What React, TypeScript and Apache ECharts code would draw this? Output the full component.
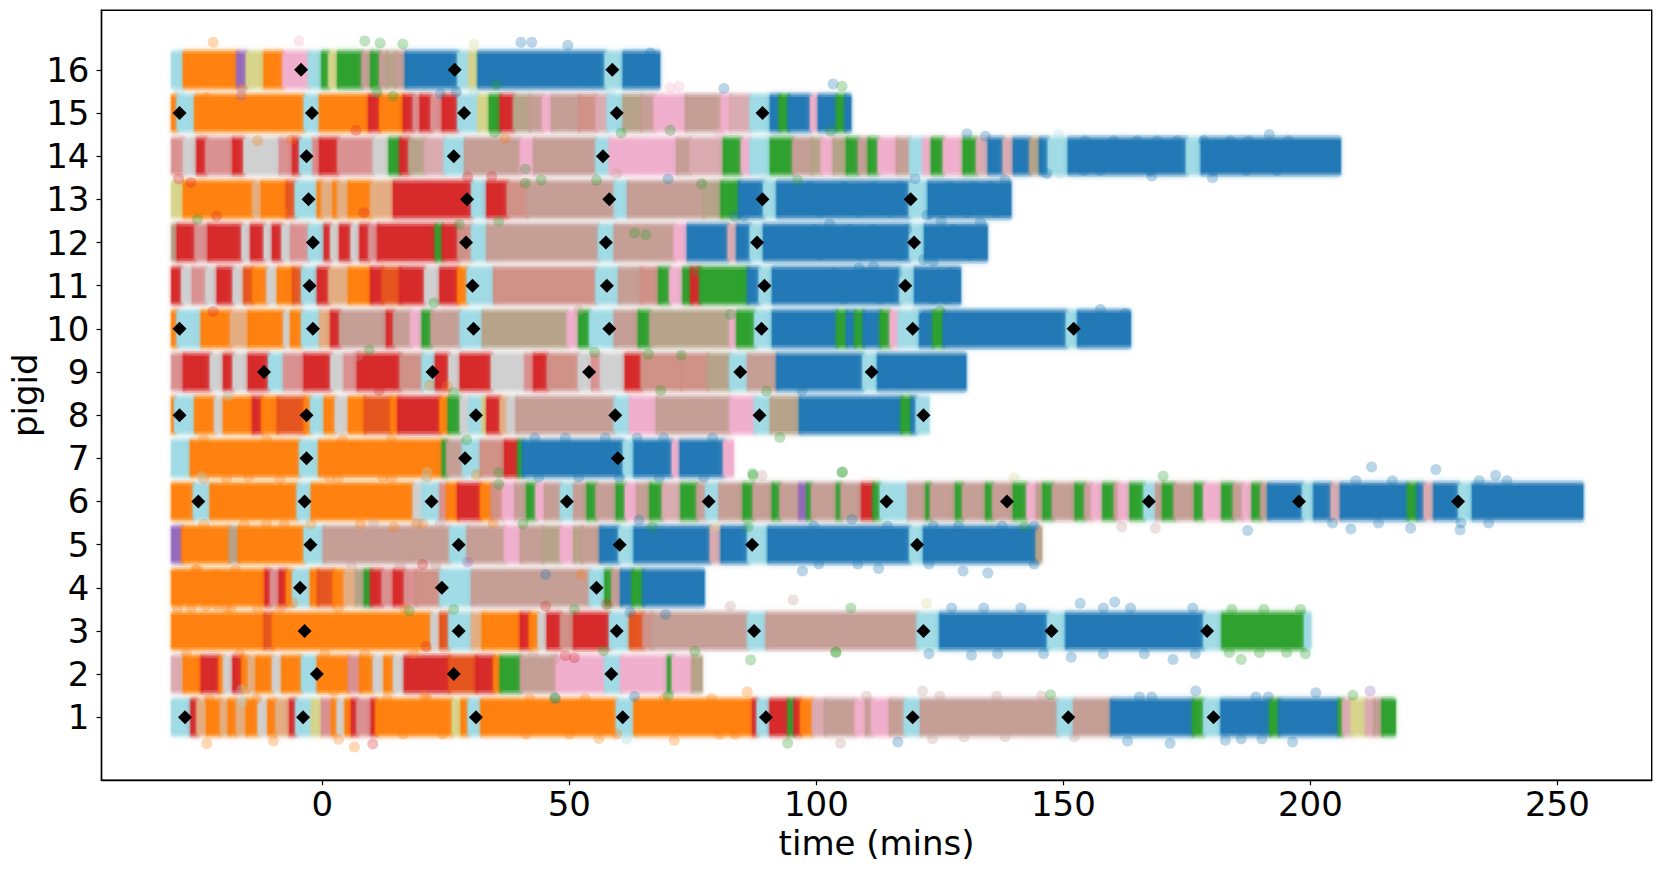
import { useEffect, useRef } from "react";
import * as echarts from "echarts";

// state colours, tab20-like, plus a few blends for the mottled stretches
const B = "#1f77b4", O = "#ff7f0e", G = "#2ca02c", R = "#d62728", P = "#9467bd";
const T = "#c49c94", K = "#f0aecb", A = "#cfcfcf", L = "#d6d48a", C = "#9edae5";
const AO = "#e3ad80", AR = "#d98f90", RO = "#e4521c", TR = "#cf8f86", TG = "#b5a288", TK = "#d9a9b0";

type Run = [string, number]; // state, end time in mins

const startTime = -30.4;

const run16: Run[] = [[C,-28],[O,-17.2],[P,-15.3],[L,-11.7],[O,-7.9],[K,-2.7],[C,0],[G,1.4],[L,3.2],[G,8.1],[T,9.9],[G,11.7],[T,13.1],[TG,14.9],[T,16.9],[B,27.5],[C,29.8],[L,31.6],[B,57.3],[C,61],[B,68.2]];
const run15: Run[] = [[O,-29.3],[C,-25.7],[O,-3.6],[C,-0.45],[O,9.5],[R,11.7],[O,16.5],[R,18.5],[AR,19.9],[R,22.1],[AR,24.4],[R,27.5],[C,31.6],[L,33.9],[G,36.1],[R,38.8],[TG,42],[T,44.7],[K,46.5],[T,52],[TR,55.5],[TK,57.8],[C,61],[TG,64.6],[T,67.3],[K,73.6],[T,80.8],[K,82.6],[TK,86.7],[C,90.8],[B,92.6],[G,94.4],[B,98.9],[K,100.5],[B,104.2],[G,105.9],[B,106.9]];
const run14: Run[] = [[AR,-28],[A,-25.3],[R,-23.5],[AR,-18],[R,-15.8],[A,-8.6],[AR,-5.9],[R,-4.5],[C,-1.8],[AR,-0.45],[R,3.2],[AR,10.4],[A,13.6],[G,15.8],[R,17.6],[TG,20.8],[TK,24.8],[C,28.9],[T,40.2],[K,42.9],[T,55.5],[C,58.2],[K,71.8],[T,74.5],[TK,81.3],[G,84.9],[K,86.7],[C,90.8],[G,95.3],[T,99.1],[TG,101.1],[K,103.5],[TG,106.2],[G,108.6],[T,110.6],[G,112.6],[K,116.3],[T,119],[C,121.7],[K,123.4],[G,125.8],[K,129.8],[G,132.5],[TK,134.9],[B,137.9],[TK,140],[B,143.3],[TG,145.3],[B,147],[C,151.1],[B,175],[C,178],[B,206]];
const run13: Run[] = [[L,-28],[O,-14],[AO,-12.2],[O,-7.2],[RO,-5.4],[C,-0.9],[O,0],[AO,2.3],[O,3.2],[AO,5.4],[O,9.9],[AO,14.5],[R,30.3],[C,33.4],[R,37.5],[TR,41.5],[T,59.2],[C,61.9],[T,77.2],[TG,80.8],[G,84.4],[B,89.4],[C,92.1],[B,118.9],[C,122.7],[B,139.3]];
const run12: Run[] = [[TG,-29.3],[R,-25.7],[AR,-23],[R,-16.2],[A,-14.4],[R,-11.7],[A,-10],[R,-8.1],[A,-6.3],[AR,-2.7],[C,0.5],[R,1.8],[A,3.6],[R,5.9],[A,7.7],[R,9.5],[AR,11.3],[R,23],[G,24.4],[R,27.5],[TR,30.3],[C,33.4],[T,56],[C,59.2],[T,71.3],[K,74],[B,82.2],[TK,84],[B,86.7],[C,89.4],[B,119],[C,122],[B,134.5]];
const run11: Run[] = [[R,-28.4],[A,-26.2],[AR,-23.5],[A,-21.2],[R,-18],[A,-15.8],[RO,-14],[O,-11.1],[A,-9],[O,-5.9],[RO,-4.1],[C,-0.9],[R,1.4],[AO,5.4],[O,9.9],[R,12.2],[RO,15.8],[R,20.8],[A,23.9],[R,27.5],[O,29.4],[C,34.8],[TR,55.5],[C,60.1],[T,64.6],[TR,68.2],[G,70.4],[K,73.1],[G,74.7],[R,76.5],[G,86.2],[B,88.5],[C,91.2],[B,117],[C,120],[B,129.1]];
const run10: Run[] = [[O,-29.3],[C,-24.4],[O,-18.5],[AO,-14.9],[O,-7.7],[A,-6.3],[O,-4.1],[C,-0.45],[AO,1.8],[R,3.6],[T,13.1],[R,14.5],[T,18],[K,20.3],[G,22.1],[T,28],[C,32.5],[TG,49.7],[K,52],[G,54.2],[C,59.2],[T,64.1],[G,66.4],[TG,82.6],[K,84],[G,87.6],[C,91.2],[B,104.2],[G,106.2],[B,107.9],[G,109.6],[B,113],[G,115],[K,116.7],[C,121],[B,123.7],[G,125.8],[B,150.7],[C,153],[B,163.5]];
const run9: Run[] = [[AR,-28],[R,-22.6],[A,-19.9],[R,-18],[A,-14.9],[R,-10.8],[C,-7.7],[AR,-3.6],[R,1.8],[A,4.5],[AR,7.2],[R,15.8],[TR,20.3],[C,23],[R,25.7],[A,28],[R,34.3],[A,41.1],[AR,42.9],[R,45.6],[TR,51.9],[A,54.6],[AR,56.4],[A,61.4],[R,64.6],[TR,72.7],[TR,78.1],[TG,82.6],[C,86.2],[T,92.1],[B,109.5],[C,112.5],[B,130.2]];
const run8: Run[] = [[O,-29.8],[C,-25.7],[O,-21.7],[A,-19.9],[O,-14],[R,-12.2],[O,-9],[RO,-3.6],[O,-2.3],[C,0.5],[O,2.7],[A,5.4],[O,8.6],[RO,14],[O,15.4],[R,23.9],[O,25.6],[G,28],[A,29.8],[C,32.5],[L,33.4],[R,36.1],[AO,37.5],[A,39.3],[T,59.2],[C,62.3],[K,67.7],[T,82.6],[K,87.6],[C,90.8],[TG,96.7],[B,117.3],[G,119.3],[B,120.3],[C,122.7]];
const run7: Run[] = [[C,-26.6],[O,-4.5],[C,-0.6],[O,24.4],[G,25.3],[T,28.5],[C,32.1],[TR,37],[R,39.7],[G,40.6],[B,61],[C,63.2],[B,70.9],[K,72.5],[B,81.3],[K,83.1]];
const run6: Run[] = [[O,-26],[C,-22.6],[O,-5],[C,-2.1],[O,18.5],[A,20.3],[C,23.9],[AR,25.3],[O,27.5],[R,32.1],[O,34.3],[TR,36.6],[K,39.1],[T,41.5],[G,43.3],[K,45.1],[T,48.3],[C,51],[T,53.7],[G,55.5],[T,59.6],[G,61.4],[K,63.7],[T,66.4],[G,68.9],[TK,72.7],[G,75.9],[T,77.7],[C,80.4],[T,85.3],[G,87.3],[T,91.2],[G,92.7],[T,96.6],[P,98.2],[G,99.1],[T,104.2],[G,105.1],[T,109.3],[R,111.6],[G,113],[C,118.6],[T,122.3],[G,123.2],[T,128.3],[G,129.7],[T,134.4],[G,135.8],[T,140],[G,142.7],[K,144.6],[T,146],[G,147.9],[T,152.5],[G,154.4],[T,155.8],[K,158.1],[G,160.4],[T,161.3],[K,163.6],[G,166.4],[C,168.8],[T,170.2],[G,172.5],[T,176.7],[G,178.5],[K,182.2],[G,184.5],[T,186.4],[K,188.3],[G,190.1],[T,191.5],[B,198.5],[C,200.8],[B,204.3],[TK,206.2],[B,219.8],[G,221.7],[B,223.1],[TK,225.1],[B,230.1],[C,232.9],[B,255.1]];
const run5: Run[] = [[P,-28.3],[O,-18.7],[TG,-16.9],[O,-3.6],[C,0.3],[T,25.9],[C,29.4],[T,37],[K,40.2],[T,44.7],[TG,48.3],[K,51],[TG,52.6],[T,56.3],[B,60.1],[C,63.2],[B,78.6],[TK,80.8],[B,86.2],[C,90.3],[B,119],[C,121.8],[B,144.6],[TG,145.5]];
const run4: Run[] = [[O,-11.5],[R,-10.4],[AR,-8.6],[R,-7.2],[O,-5.9],[C,-2.3],[O,-0.9],[RO,2.3],[O,4.5],[AO,6.8],[TG,8.6],[G,9.9],[R,12.2],[AR,14.5],[R,16.7],[AR,19],[TR,23.9],[C,30.3],[T,54.2],[C,57.3],[G,58.7],[T,60.5],[B,62.8],[G,65],[B,77.2]];
const run3: Run[] = [[O,-11.7],[RO,-10],[O,22.1],[A,23.9],[RO,25.7],[C,30.3],[AO,32.5],[O,40.2],[R,42],[O,43.8],[A,45.6],[R,48.3],[TR,51],[R,58.2],[C,62.3],[RO,65],[TR,66.8],[T,86.2],[C,89.9],[T,120.5],[C,125.1],[B,146.9],[C,150.6],[B,178.5],[C,182.2],[G,198.9],[C,200]];
const run2: Run[] = [[TK,-28],[O,-24.4],[R,-20.8],[O,-19.9],[A,-18],[R,-16.2],[O,-14.9],[AO,-13.3],[O,-10],[A,-8.1],[O,-4.1],[C,-0.9],[O,5.4],[AR,7.7],[O,10.4],[A,12.6],[O,14.5],[A,16.7],[R,25.7],[RO,31.2],[R,34.8],[O,36.1],[G,40.2],[T,47.4],[K,57.3],[C,60.5],[K,70],[G,70.9],[K,74.9],[TG,76.8]];
const run1: Run[] = [[C,-26.5],[R,-25.3],[AO,-23.3],[O,-20.5],[AO,-18.9],[O,-17.3],[AO,-15.3],[O,-12.9],[A,-10.9],[O,-9.3],[AO,-6.5],[R,-5.3],[C,-2.1],[L,-0.06],[AR,2],[O,3.1],[A,4.7],[O,6],[R,7.1],[AR,10],[R,10.9],[O,26.4],[L,28.2],[O,29.6],[C,32.2],[O,59.6],[C,63.2],[O,87.2],[R,88.1],[C,90.7],[R,94.4],[G,95.6],[R,96.9],[O,99.3],[TK,101.8],[T,108],[K,110.1],[T,111.3],[K,114.9],[T,117.9],[C,121.2],[T,148.9],[C,152.2],[T,159.7],[B,176.3],[G,178.5],[C,182],[B,191.9],[G,193.7],[B,205.8],[G,206.6],[TK,208.4],[L,211.3],[TK,212.9],[T,214.6],[G,217.1]];
const runs: Run[][] = [run1, run2, run3, run4, run5, run6, run7, run8, run9, run10, run11, run12, run13, run14, run15, run16];

// black diamonds, one list per pig
const marks: number[][] = [
  [-27.8, -3.9, 31.1, 60.8, 89.8, 119.5, 151, 180.4],
  [-1.1, 26.6, 58.5],
  [-3.6, 27.6, 59.6, 87.4, 121.7, 147.6, 179.1],
  [-4.5, 24.2, 55.5],
  [-2.4, 27.6, 60.2, 87, 120.4],
  [-25.1, -3.6, 22.1, 49.5, 78.2, 114.2, 138.6, 167.3, 197.7, 229.9],
  [-3.2, 28.9, 59.8],
  [-28.9, -3.2, 31.1, 59.3, 88.5, 121.7],
  [-11.8, 22.3, 54, 84.6, 111.2],
  [-28.9, -1.9, 30.6, 58.1, 88.9, 119.5, 152.1],
  [-2.6, 30.4, 57.6, 89.5, 118],
  [-1.9, 29.1, 57.4, 88, 119.8],
  [-2.8, 29.3, 58.1, 89.1, 119.1],
  [-3.2, 26.6, 56.8],
  [-28.9, -2.1, 28.7, 59.6, 89.1],
  [-4.3, 26.8, 58.7],
];

// stray points outside the bands, read one by one: [time, jittered pigid]
const strayBlue = [[42.4,16.64],[40.2,16.64],[49.7,16.57],[66.4,16.39],[27.1,15.49],[23.9,15.45],[81.3,15.57],[103.4,15.67],[130.5,14.52],[134.2,14.46],[191.7,14.5],[180.2,13.5],[167.9,13.54],[146.7,13.6],[70,13.47],[138.2,13.44],[120,13.48],[133.2,12.47],[122.4,12.63],[85.3,12.61],[83.5,12.61],[102.7,12.43],[125.3,12.49],[121.7,11.6],[123.7,11.56],[108.6,11.41],[111.6,11.45],[157.5,10.45],[162.5,10.35],[97.1,8.57],[45.2,4.31],[64.1,5.57],[69.5,3.38],[62.3,3.43],[63.2,1.48],[47.2,1.43],[176.8,1.61],[116.5,0.43],[171.6,0.4],[163,0.45],[196.4,0.43],[201.1,1.57],[182.8,0.47],[212.4,6.8],[225.4,6.74],[237.5,6.61],[187.3,5.33],[208.2,5.36],[220.3,5.38],[230.3,5.34],[97.2,4.39],[107.2,5.59],[112.6,4.45],[134.7,4.34],[129.7,4.39],[153.4,3.64],[160.4,3.67],[131.4,2.44],[172.2,2.34],[151.6,2.39]];
const strayOrange = [[-22.1,16.64],[-23.5,15.36],[-16.3,15.57],[-13.1,14.36],[-6.3,14.38],[37,14.41],[25.3,8.67],[21.7,8.69],[31.2,6.62],[14.5,5.41],[20.3,5.48],[52.4,4.31],[-21.4,4.31],[-25.3,4.43],[34.6,5.49],[-21.2,3.59],[-23.5,3.57],[-5.9,3.65],[-23.4,0.39],[-9.9,0.45],[6.5,0.31],[3.3,0.49],[56,0.51],[2.3,1.61],[20.7,1.48],[86,1.59],[71.2,0.47],[-8,12.69]];
const strayGreen = [[8.6,16.67],[11.7,16.62],[16.3,16.6],[11.1,15.47],[14.3,15.39],[35.2,15.65],[105.2,15.62],[60.5,14.54],[70.4,14.6],[102.9,14.58],[34.9,14.55],[76.8,13.36],[55.5,13.44],[41.1,13.38],[96.2,13.44],[41.1,13.7],[44.3,13.45],[35.7,12.49],[27.7,12.42],[63.2,12.22],[65.5,12.18],[-25.3,12.54],[125,10.41],[82.6,10.33],[75.9,11.34],[9.5,9.51],[66,9.41],[72.7,9.39],[22.6,10.6],[55.1,9.46],[89.9,8.56],[68.5,8.57],[29.2,7.43],[26.6,8.52],[92.6,7.48],[35.7,6.4],[87.2,6.6],[105.2,6.67],[87.1,6.65],[66.8,5.41],[86.2,5.41],[40.6,5.48],[35.7,6.67],[105.3,6.69],[170.2,6.59],[142.1,5.41],[17.6,3.46],[26.6,3.5],[51,3.5],[107,3.53],[86.7,2.33],[103.9,2.51],[75.4,2.53],[56.9,2.54],[47,1.45],[70,1.5],[147.4,1.52],[208.6,1.51],[94.2,0.4],[186,2.34],[199,2.47],[104,2.5]];
const strayRed = [[6.8,14.6],[-26.6,13.39],[-29.1,13.47],[34.3,13.53],[29.4,13.52],[-21.4,12.61],[8.4,12.69],[-22.1,10.4],[44.3,9.31],[11.5,8.57],[20.3,4.54],[45.2,3.57],[57.5,3.62],[49.2,2.43],[51,2.38],[21,2.64],[10.2,0.38]];
const strayRosy = [[59.6,13.6],[51.9,10.43],[7.2,9.38],[89,6.6],[161.8,5.41],[168.6,5.38],[17.6,4.72],[95.3,3.72],[82.6,3.57],[42.7,2.43],[47,2.35],[121.5,1.61],[104.9,0.4],[123.5,0.5]];
const strayPale = [[30.7,15.48],[58.3,15.46],[-28.9,15.5],[149,14.5],[149.4,13.6],[120.4,10.44],[-24.4,6.57],[21.2,6.67],[20.8,6.51],[-16.2,1.36],[-16.3,1.64],[61.6,0.49],[89.9,13.5],[-19,8.45]];
const strayPink = [[-4.7,16.67],[70.4,15.59],[72.2,15.62],[80.4,14.54]];
const strayPurple = [[-16.4,15.4],[29.4,4.6],[212.1,1.61]];
const strayOlive = [[30.7,16.6],[140,6.55],[79.5,5.41],[122.3,3.64]];

// bumps along the band edges: [pigid height, times]
const edgeBlue: [number, number[]][] = [
  [14.36, [154.4, 160.2, 164.9, 169, 173, 178.4, 183.8, 187.5, 195.6]],
  [13.66, [154.1, 157.5, 167.6, 180.4, 187.1, 193.2]],
  [13.3, [98.8, 105.5, 111.6, 117, 127.1, 131.8, 135.2]],
  [12.71, [100.8, 108.6, 115, 125.8, 130.5, 136.5]],
  [12.3, [99.5, 106.9, 111.6, 118.3, 127.8]],
  [11.71, [100.8, 108.9, 117, 123.7, 131.2]],
  [11.29, [103.5, 110.3, 116.3, 127.1]],
  [10.69, [105.5, 113, 123.7, 126.4]],
  [7.47, [43, 49.2, 57.3, 63.7, 69.1, 79]],
  [6.56, [43.8, 51.9, 60.1, 68.2, 77.2]],
  [6.48, [209.2, 216.6, 234.2, 239.8]],
  [5.5, [204.5, 213.8, 230.5, 236.1]],
  [5.43, [99.5, 114.4, 123.7, 128.8, 137.6, 144.1]],
  [4.55, [100.5, 108.4, 122.8, 144.1]],
  [3.53, [127.4, 133.9, 141.4, 158.1, 163.6, 176.2]],
  [2.47, [122.8, 136.7, 146, 158.1, 166.4, 176.7]],
  [1.47, [165.4, 167.9, 189, 191.5]],
  [0.5, [186, 190.2]],
];
const edgeOrange: [number, number[]][] = [
  [7.45, [-24, -11.3, 4.1, 14]],
  [6.56, [-14.9, 1.4, 12.2, 21.2]],
  [6.52, [-24, -19.4, -8.6, 3.2, 14]],
  [5.48, [-11.3, -2.3, 7.7, 19]],
  [5.47, [-24, -15.8, -7.7]],
  [4.41, [-25.7, -17.6]],
  [3.53, [-26.6, -19.4, -13.1]],
  [3.52, [-29.3, -18.5, -8.6, 3.2, 16.7]],
  [2.48, [-27.5, -16.7, 0.5, 8.6, 18.5]],
  [1.43, [-22.9, -13.3, 13.1, 21.2, 42, 53.2, 69.2, 78.8]],
  [0.61, [16.4, 24.4, 41.2, 50, 59.6, 80.4, 83.6]],
];
const edgeGreen: [number, number[]][] = [
  [3.5, [184.1, 190.6, 198]],
  [2.5, [183.6, 189.7, 195.2]],
];
const edgeRosy: [number, number[]][] = [
  [5.5, [10.4, 19.4, 23.9]],
  [4.53, [5.9, 15.8, 23]],
  [1.49, [110.1, 125, 136.5, 145.6]],
  [0.55, [129.9, 138.2, 152.2]],
];

const xTicks = [0, 50, 100, 150, 200, 250];
const yTicks = [1, 2, 3, 4, 5, 6, 7, 8, 9, 10, 11, 12, 13, 14, 15, 16];

const fontFamily = "DejaVu Sans";
const fontSize = 34;

const edgePoints = (edges: [number, number[]][]) =>
  edges.flatMap(([y, times]) => times.map((t) => [t, y]));

const strayData: [string, number[][]][] = [
  [B, [...strayBlue, ...edgePoints(edgeBlue)]],
  [O, [...strayOrange, ...edgePoints(edgeOrange)]],
  [G, [...strayGreen, ...edgePoints(edgeGreen)]],
  [R, strayRed],
  [T, [...strayRosy, ...edgePoints(edgeRosy)]],
  [C, strayPale], [K, strayPink], [P, strayPurple], [L, strayOlive],
];

const buildBands = () => {
  const rows: (number | string)[][] = [];
  runs.forEach((run, i) => {
    let start = startTime;
    run.forEach(([state, end]) => {
      rows.push([start, end, i + 1, state]);
      start = end;
    });
  });
  return rows;
};

// soft halo, then the dense core; the halo spills a little over the neighbours
const layers = [
  { h: 0.98, opacity: 0.22, spill: 2, blur: 5, r: 4 },
  { h: 0.86, opacity: 0.45, spill: 1, blur: 3, r: 2 },
  { h: 0.74, opacity: 0.92, spill: 0.5, blur: 0, r: 0 },
];

const renderBand = (_params: any, api: any) => {
  const start = api.coord([api.value(0), api.value(2)]);
  const end = api.coord([api.value(1), api.value(2)]);
  const unit = api.size([0, 1])[1];
  const fill = String(api.value(3));
  return {
    type: "group",
    children: layers.map((l) => ({
      type: "rect",
      shape: {
        x: start[0] - l.spill,
        y: start[1] - (unit * l.h) / 2,
        width: end[0] - start[0] + 2 * l.spill,
        height: unit * l.h,
        r: l.r,
      },
      style: { fill, opacity: l.opacity, shadowBlur: l.blur, shadowColor: l.blur ? fill : undefined },
    })),
  };
};

const Chart: React.FC = () => {
  const chartRef = useRef<HTMLDivElement>(null);

  useEffect(() => {
    if (!chartRef.current) return;
    const myChart = echarts.init(chartRef.current, null, { renderer: "svg" });

    const axisText = { fontFamily, fontSize, color: "#000" };
    const axisLine = { show: true, onZero: false, lineStyle: { color: "#000", width: 1.4 } };
    const axisTickBase = { show: true, length: 5, lineStyle: { color: "#000", width: 1.2 } };

    myChart.setOption({
      animation: false,
      backgroundColor: "#fff",
      grid: {
        show: true,
        left: 101.5,
        right: 8.3,
        top: 10.3,
        bottom: 90.7,
        borderColor: "#000",
        borderWidth: 1.4,
        containLabel: false,
        outerBoundsMode: "none",
      },
      xAxis: {
        type: "value",
        min: -44.7,
        max: 269.1,
        name: "time (mins)",
        nameLocation: "middle",
        nameGap: 46,
        nameMoveOverlap: false,
        nameTextStyle: axisText,
        axisLine,
        axisTick: { ...axisTickBase, customValues: xTicks },
        axisLabel: { ...axisText, customValues: xTicks, margin: 7 },
        splitLine: { show: false },
      },
      yAxis: {
        type: "value",
        min: -0.46,
        max: 17.38,
        name: "pigid",
        nameLocation: "middle",
        nameGap: 60,
        nameMoveOverlap: false,
        nameTextStyle: axisText,
        axisLine,
        axisTick: { ...axisTickBase, customValues: yTicks },
        axisLabel: { ...axisText, customValues: yTicks, margin: 12 },
        splitLine: { show: false },
      },
      series: [
        {
          type: "custom",
          silent: true,
          renderItem: renderBand,
          data: buildBands(),
          encode: { x: [0, 1], y: 2 },
          z: 2,
        },
        ...strayData.map(([color, data]) => ({
          type: "scatter",
          silent: true,
          data,
          symbol: "circle",
          symbolSize: 11,
          itemStyle: { color, opacity: 0.3 },
          z: 3,
        })),
        {
          type: "scatter",
          silent: true,
          data: marks.flatMap((times, i) => times.map((t) => [t, i + 1])),
          symbol: "diamond",
          symbolSize: [14, 14],
          itemStyle: { color: "#000", opacity: 1 },
          z: 5,
        },
      ],
    });

    return () => {
      myChart.dispose();
    };
  }, []);

  return (
    <div
      ref={chartRef}
      style={{ position: "fixed", left: 0, top: 0, width: "1660px", height: "871px" }}
    />
  );
};

export default function App() {
  return <Chart />;
}
